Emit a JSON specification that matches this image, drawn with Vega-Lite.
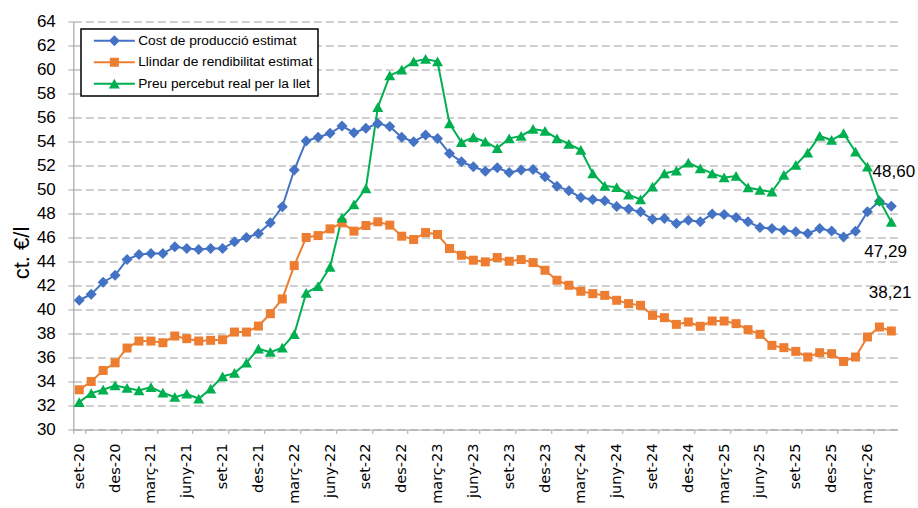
{
  "$schema": "https://vega.github.io/schema/vega-lite/v6.json",
  "width": 824,
  "height": 408,
  "autosize": {"type": "none"},
  "padding": {"left": 73.3, "top": 21.5, "right": 20.7, "bottom": 78.5},
  "config": {
    "font": "Liberation Sans",
    "view": {"stroke": null},
    "locale": {"number": {"decimal": ",", "thousands": ".", "grouping": [3], "currency": ["", " €"]}},
    "legend": {
      "orient": "none",
      "legendX": 7.7,
      "legendY": 7.5,
      "strokeColor": "black",
      "strokeWidth": 1.5,
      "fillColor": "white",
      "padding": 5,
      "symbolSize": 100,
      "symbolStrokeWidth": 0,
      "symbolOpacity": 1,
      "symbolOffset": 21.5,
      "labelOffset": 17,
      "labelFont": "Liberation Sans",
      "labelFontSize": 13.7,
      "labelColor": "black",
      "labelLimit": 400,
      "rowPadding": 6.5
    }
  },
  "data": {
    "values": [
      {"mes": "set-20", "cost": 40.77, "llindar": 33.31, "preu": 32.28},
      {"mes": "oct-20", "cost": 41.27, "llindar": 34.0, "preu": 33.03},
      {"mes": "nov-20", "cost": 42.27, "llindar": 34.92, "preu": 33.31},
      {"mes": "des-20", "cost": 42.85, "llindar": 35.56, "preu": 33.67},
      {"mes": "gen-21", "cost": 44.16, "llindar": 36.79, "preu": 33.45},
      {"mes": "febr-21", "cost": 44.58, "llindar": 37.37, "preu": 33.26},
      {"mes": "març-21", "cost": 44.66, "llindar": 37.37, "preu": 33.53},
      {"mes": "abr-21", "cost": 44.66, "llindar": 37.23, "preu": 33.06},
      {"mes": "maig-21", "cost": 45.22, "llindar": 37.79, "preu": 32.7},
      {"mes": "juny-21", "cost": 45.08, "llindar": 37.57, "preu": 32.98},
      {"mes": "jul-21", "cost": 45.0, "llindar": 37.37, "preu": 32.56},
      {"mes": "ag-21", "cost": 45.08, "llindar": 37.43, "preu": 33.39},
      {"mes": "set-21", "cost": 45.08, "llindar": 37.48, "preu": 34.42},
      {"mes": "oct-21", "cost": 45.64, "llindar": 38.12, "preu": 34.7},
      {"mes": "nov-21", "cost": 46.0, "llindar": 38.12, "preu": 35.56},
      {"mes": "des-21", "cost": 46.33, "llindar": 38.62, "preu": 36.73},
      {"mes": "gen-22", "cost": 47.22, "llindar": 39.65, "preu": 36.45},
      {"mes": "febr-22", "cost": 48.56, "llindar": 40.88, "preu": 36.82},
      {"mes": "març-22", "cost": 51.62, "llindar": 43.66, "preu": 37.93},
      {"mes": "abr-22", "cost": 54.04, "llindar": 46.0, "preu": 41.38},
      {"mes": "maig-22", "cost": 54.35, "llindar": 46.16, "preu": 41.93},
      {"mes": "juny-22", "cost": 54.68, "llindar": 46.72, "preu": 43.55},
      {"mes": "jul-22", "cost": 55.29, "llindar": 47.22, "preu": 47.65},
      {"mes": "ag-22", "cost": 54.73, "llindar": 46.53, "preu": 48.74},
      {"mes": "set-22", "cost": 55.1, "llindar": 47.0, "preu": 50.09},
      {"mes": "oct-22", "cost": 55.51, "llindar": 47.31, "preu": 56.85},
      {"mes": "nov-22", "cost": 55.24, "llindar": 47.03, "preu": 59.49},
      {"mes": "des-22", "cost": 54.35, "llindar": 46.11, "preu": 59.97},
      {"mes": "gen-23", "cost": 53.98, "llindar": 45.83, "preu": 60.66},
      {"mes": "febr-23", "cost": 54.54, "llindar": 46.41, "preu": 60.88},
      {"mes": "març-23", "cost": 54.26, "llindar": 46.25, "preu": 60.66},
      {"mes": "abr-23", "cost": 53.01, "llindar": 45.08, "preu": 55.51},
      {"mes": "maig-23", "cost": 52.31, "llindar": 44.52, "preu": 53.93},
      {"mes": "juny-23", "cost": 51.9, "llindar": 44.11, "preu": 54.35},
      {"mes": "jul-23", "cost": 51.53, "llindar": 43.97, "preu": 53.98},
      {"mes": "ag-23", "cost": 51.81, "llindar": 44.33, "preu": 53.43},
      {"mes": "set-23", "cost": 51.42, "llindar": 44.02, "preu": 54.26},
      {"mes": "oct-23", "cost": 51.62, "llindar": 44.16, "preu": 54.46},
      {"mes": "nov-23", "cost": 51.67, "llindar": 43.91, "preu": 55.04},
      {"mes": "des-23", "cost": 51.06, "llindar": 43.27, "preu": 54.87},
      {"mes": "gen-24", "cost": 50.28, "llindar": 42.44, "preu": 54.26},
      {"mes": "febr-24", "cost": 49.89, "llindar": 42.02, "preu": 53.79},
      {"mes": "març-24", "cost": 49.34, "llindar": 41.52, "preu": 53.29},
      {"mes": "abr-24", "cost": 49.17, "llindar": 41.32, "preu": 51.34},
      {"mes": "maig-24", "cost": 49.07, "llindar": 41.18, "preu": 50.3},
      {"mes": "juny-24", "cost": 48.58, "llindar": 40.77, "preu": 50.18},
      {"mes": "jul-24", "cost": 48.38, "llindar": 40.49, "preu": 49.57},
      {"mes": "ag-24", "cost": 48.14, "llindar": 40.35, "preu": 49.17},
      {"mes": "set-24", "cost": 47.53, "llindar": 39.51, "preu": 50.23},
      {"mes": "oct-24", "cost": 47.58, "llindar": 39.32, "preu": 51.34},
      {"mes": "nov-24", "cost": 47.17, "llindar": 38.76, "preu": 51.56},
      {"mes": "des-24", "cost": 47.44, "llindar": 38.96, "preu": 52.23},
      {"mes": "gen-25", "cost": 47.31, "llindar": 38.6, "preu": 51.76},
      {"mes": "febr-25", "cost": 47.95, "llindar": 39.04, "preu": 51.34},
      {"mes": "març-25", "cost": 47.92, "llindar": 39.04, "preu": 51.01},
      {"mes": "abr-25", "cost": 47.67, "llindar": 38.82, "preu": 51.12},
      {"mes": "maig-25", "cost": 47.31, "llindar": 38.32, "preu": 50.17},
      {"mes": "juny-25", "cost": 46.83, "llindar": 37.93, "preu": 49.95},
      {"mes": "jul-25", "cost": 46.75, "llindar": 37.01, "preu": 49.81},
      {"mes": "ag-25", "cost": 46.61, "llindar": 36.82, "preu": 51.2},
      {"mes": "set-25", "cost": 46.47, "llindar": 36.51, "preu": 52.04},
      {"mes": "oct-25", "cost": 46.33, "llindar": 36.04, "preu": 53.07},
      {"mes": "nov-25", "cost": 46.75, "llindar": 36.4, "preu": 54.46},
      {"mes": "des-25", "cost": 46.55, "llindar": 36.32, "preu": 54.12},
      {"mes": "gen-26", "cost": 46.05, "llindar": 35.67, "preu": 54.68},
      {"mes": "febr-26", "cost": 46.53, "llindar": 36.04, "preu": 53.15},
      {"mes": "març-26", "cost": 48.14, "llindar": 37.71, "preu": 51.9},
      {"mes": "abr-26", "cost": 49.03, "llindar": 38.54, "preu": 49.11},
      {"mes": "maig-26", "cost": 48.6, "llindar": 38.21, "preu": 47.29}
    ]
  },
  "transform": [{"fold": ["cost", "llindar", "preu"], "as": ["serie", "valor"]}],
  "encoding": {
    "x": {
      "field": "mes",
      "type": "ordinal",
      "sort": null,
      "scale": {"type": "band", "paddingInner": 0, "paddingOuter": 0},
      "axis": {
        "title": null,
        "values": ["set-20", "des-20", "març-21", "juny-21", "set-21", "des-21", "març-22", "juny-22", "set-22", "des-22", "març-23", "juny-23", "set-23", "des-23", "març-24", "juny-24", "set-24", "des-24", "març-25", "juny-25", "set-25", "des-25", "març-26"],
        "labelAngle": -90,
        "labelFont": "DejaVu Sans",
        "labelFontSize": 14.5,
        "labelColor": "black",
        "tickBand": "extent",
        "tickSize": 4,
        "tickColor": "#A6A6A6",
        "domainColor": "#A6A6A6",
        "domainWidth": 1.2,
        "labelPadding": 9.5,
        "grid": false
      }
    },
    "y": {
      "field": "valor",
      "type": "quantitative",
      "scale": {"domain": [30, 64], "nice": false, "zero": false},
      "axis": {
        "title": "ct. €/l",
        "values": [30, 32, 34, 36, 38, 40, 42, 44, 46, 48, 50, 52, 54, 56, 58, 60, 62, 64],
        "grid": true,
        "gridDash": [8, 4],
        "gridColor": "#A0A0A0",
        "gridWidth": 1.2,
        "tickSize": 5.5,
        "tickColor": "#A6A6A6",
        "domainColor": "#A6A6A6",
        "domainWidth": 1.2,
        "labelPadding": 12.5,
        "labelFontSize": 17,
        "labelColor": "black",
        "titleFontSize": 22,
        "titleFontWeight": "normal",
        "titleColor": "black",
        "titleAlign": "center",
        "titleBaseline": "alphabetic",
        "titleX": -44.5,
        "titleY": 231
      }
    }
  },
  "layer": [
    {
      "mark": {"type": "line", "strokeWidth": 2},
      "encoding": {
        "color": {"field": "serie", "type": "nominal", "scale": {"domain": ["cost", "llindar", "preu"], "range": ["#4472C4", "#ED7D31", "#00B050"]}, "legend": null}
      }
    },
    {
      "mark": {"type": "point", "filled": true, "opacity": 1, "size": 100},
      "encoding": {
        "color": {"field": "serie", "type": "nominal", "scale": {"domain": ["cost", "llindar", "preu"], "range": ["#4472C4", "#ED7D31", "#00B050"]}, "legend": null},
        "shape": {"field": "serie", "type": "nominal", "scale": {"domain": ["cost", "llindar", "preu"], "range": ["M0,-1.1L1.1,0L0,1.1L-1.1,0Z", "M-0.9,-0.9H0.9V0.9H-0.9Z", "M0,-1L1.1,0.95H-1.1Z"]}, "legend": null}
      }
    },
    {
      "mark": {"type": "point", "filled": true, "opacity": 0, "size": 100},
      "encoding": {
        "color": {"field": "serie", "type": "nominal", "scale": {"domain": ["cost", "llindar", "preu"], "range": ["#4472C4", "#ED7D31", "#00B050"]},
          "legend": {"title": null, "labelExpr": "{'cost': 'Cost de producció estimat', 'llindar': 'Llindar de rendibilitat estimat', 'preu': 'Preu percebut real per la llet'}[datum.value]"}},
        "shape": {"field": "serie", "type": "nominal", "scale": {"domain": ["cost", "llindar", "preu"], "range": ["M-4.1,-0.2H4.1V0.2H-4.1ZM0,-1.1L1.1,0L0,1.1L-1.1,0Z", "M-4.1,-0.2H4.1V0.2H-4.1ZM-0.9,-0.9H0.9V0.9H-0.9Z", "M-4.1,-0.2H4.1V0.2H-4.1ZM0,-1L1.1,0.95H-1.1Z"]},
          "legend": {"title": null, "labelExpr": "{'cost': 'Cost de producció estimat', 'llindar': 'Llindar de rendibilitat estimat', 'preu': 'Preu percebut real per la llet'}[datum.value]"}}
      }
    },
    {
      "transform": [{"filter": "datum.mes === 'maig-26' && datum.serie === 'cost'"}],
      "mark": {"type": "text", "fontSize": 17, "align": "center", "baseline": "middle", "dx": 2.5, "dy": -34.6, "color": "black"},
      "encoding": {"text": {"field": "valor", "type": "quantitative", "format": ".2f"}}
    },
    {
      "transform": [{"filter": "datum.mes === 'maig-26' && datum.serie === 'preu'"}],
      "mark": {"type": "text", "fontSize": 17, "align": "center", "baseline": "middle", "dx": -5.7, "dy": 30.4, "color": "black"},
      "encoding": {"text": {"field": "valor", "type": "quantitative", "format": ".2f"}}
    },
    {
      "transform": [{"filter": "datum.mes === 'maig-26' && datum.serie === 'llindar'"}],
      "mark": {"type": "text", "fontSize": 17, "align": "center", "baseline": "middle", "dx": -1.2, "dy": -38.4, "color": "black"},
      "encoding": {"text": {"field": "valor", "type": "quantitative", "format": ".2f"}}
    }
  ],
  "resolve": {"scale": {"color": "independent", "shape": "independent"}}
}
